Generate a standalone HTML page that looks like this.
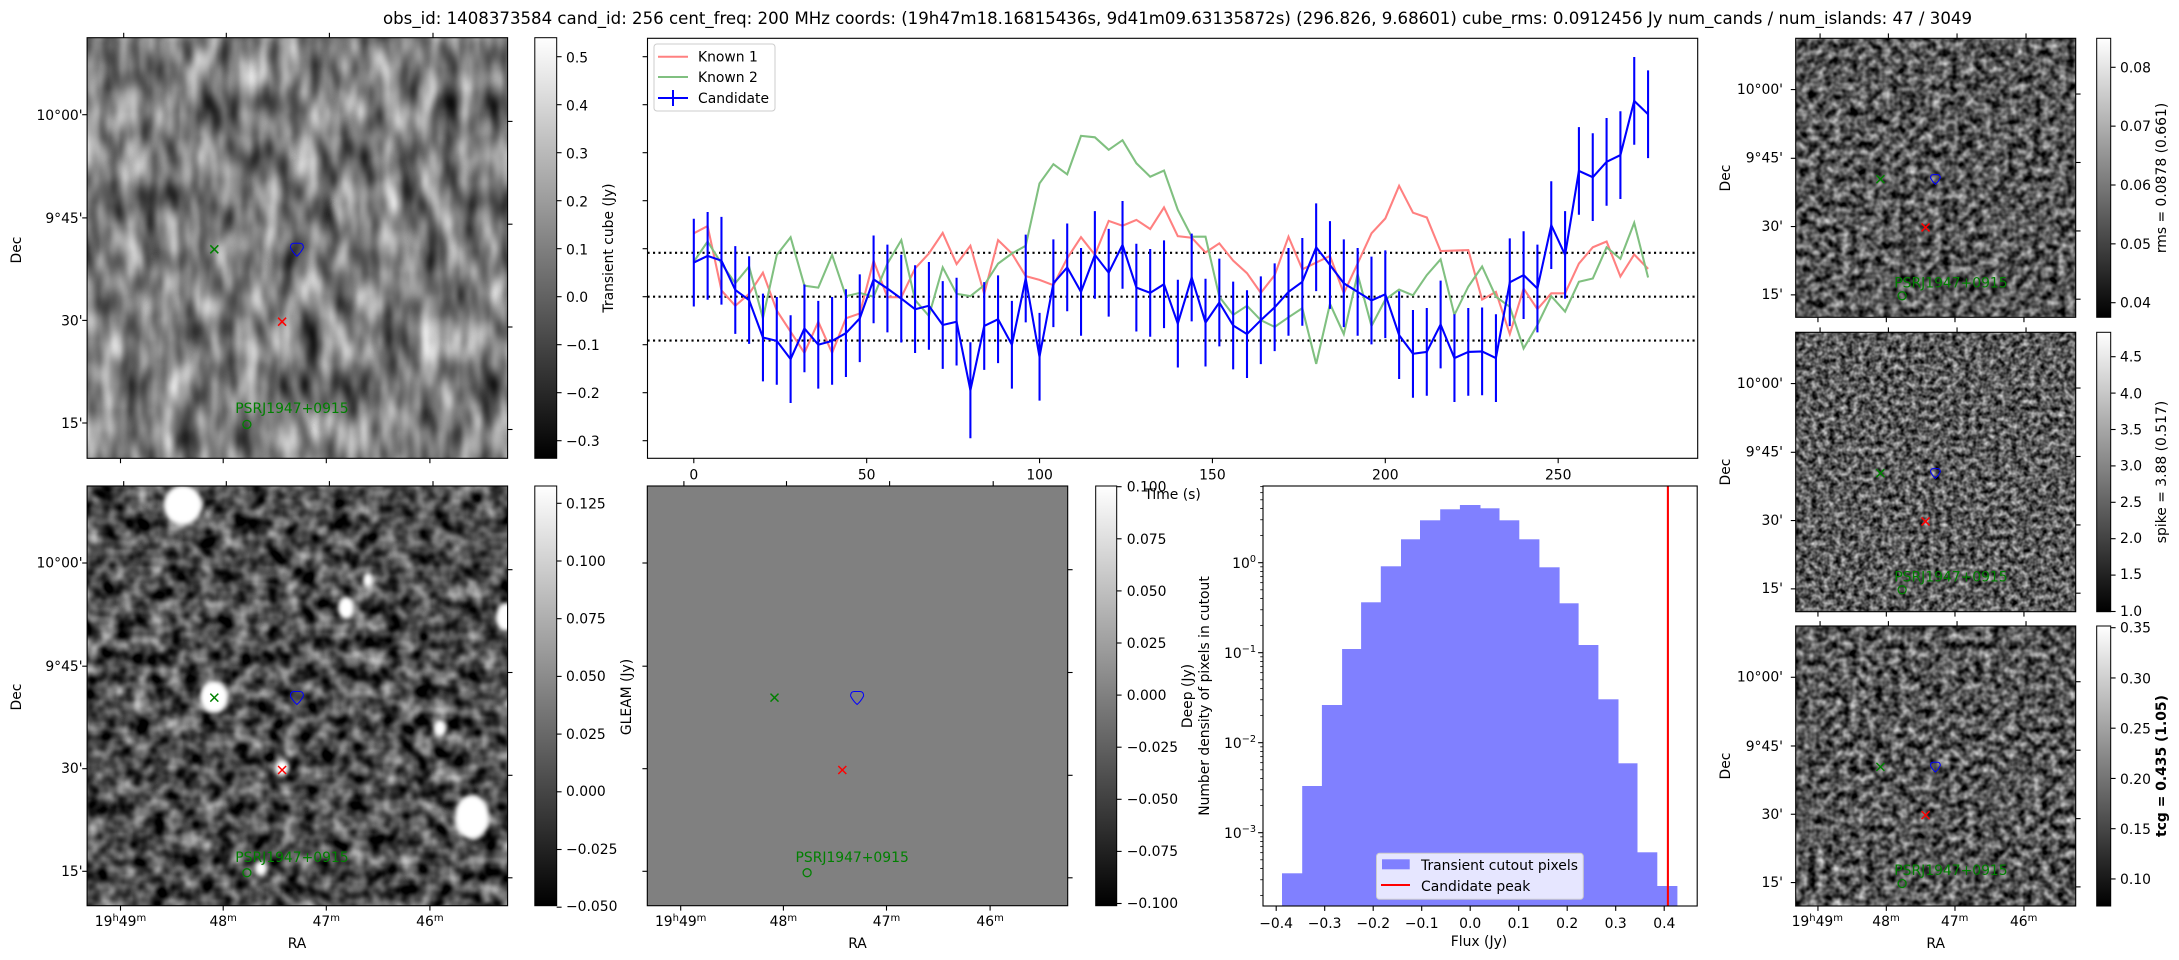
<!DOCTYPE html>
<html><head><meta charset="utf-8">
<style>
html,body{margin:0;padding:0;background:#fff;}
svg{display:block;}
text{font-family:"DejaVu Sans","Liberation Sans",sans-serif;font-size:13.9px;fill:#000;}
.ps{fill:#008000;font-size:13.9px;}
</style></head>
<body>
<svg id="s" width="2179" height="960" viewBox="0 0 2179 960" xmlns="http://www.w3.org/2000/svg">
<defs>
<filter id="n1" x="0" y="0" width="1" height="1" color-interpolation-filters="sRGB">
<feTurbulence type="fractalNoise" baseFrequency="0.05 0.022" numOctaves="2" seed="3"/>
<feColorMatrix type="matrix" values="1.1 0 0 0 -0.06  1.1 0 0 0 -0.06  1.1 0 0 0 -0.06  0 0 0 0 1"/>
</filter>
<filter id="n2" x="0" y="0" width="1" height="1" color-interpolation-filters="sRGB">
<feTurbulence type="fractalNoise" baseFrequency="0.06" numOctaves="2" seed="7"/>
<feColorMatrix type="matrix" values="1.2 0 0 0 -0.3  1.2 0 0 0 -0.3  1.2 0 0 0 -0.3  0 0 0 0 1"/>
</filter>
<filter id="n3" x="0" y="0" width="1" height="1" color-interpolation-filters="sRGB">
<feTurbulence type="fractalNoise" baseFrequency="0.12" numOctaves="2" seed="11"/>
<feColorMatrix type="matrix" values="1.2 0 0 0 -0.26  1.2 0 0 0 -0.26  1.2 0 0 0 -0.26  0 0 0 0 1"/>
</filter>
<filter id="n4" x="0" y="0" width="1" height="1" color-interpolation-filters="sRGB">
<feTurbulence type="fractalNoise" baseFrequency="0.17" numOctaves="2" seed="5"/>
<feColorMatrix type="matrix" values="1.2 0 0 0 -0.24  1.2 0 0 0 -0.24  1.2 0 0 0 -0.24  0 0 0 0 1"/>
</filter>
<filter id="bl"><feGaussianBlur stdDeviation="2"/></filter>
<linearGradient id="gr" x1="0" y1="1" x2="0" y2="0"><stop offset="0" stop-color="#000"/><stop offset="1" stop-color="#fff"/></linearGradient>
<clipPath id="cbl"><rect x="87.1" y="486" width="420.5" height="419.7"/></clipPath>
</defs>

<text x="1177.5" y="24" text-anchor="middle" style="font-size:16.7px" textLength="1589" lengthAdjust="spacingAndGlyphs">obs_id: 1408373584 cand_id: 256 cent_freq: 200 MHz coords: (19h47m18.16815436s, 9d41m09.63135872s) (296.826, 9.68601) cube_rms: 0.0912456 Jy num_cands / num_islands: 47 / 3049</text>

<rect x="87.1" y="37.7" width="420.5" height="420.6" filter="url(#n1)"/>
<rect x="87.1" y="486" width="420.5" height="419.7" filter="url(#n2)"/>
<g clip-path="url(#cbl)" fill="#fff" filter="url(#bl)">
<ellipse cx="183" cy="505" rx="19" ry="20"/>
<ellipse cx="214" cy="697" rx="14" ry="16"/>
<ellipse cx="346" cy="608" rx="8" ry="11"/>
<ellipse cx="506" cy="617" rx="10" ry="14"/>
<ellipse cx="282" cy="768" rx="7" ry="8"/>
<ellipse cx="440" cy="728" rx="6" ry="8"/>
<ellipse cx="472" cy="817" rx="17" ry="22"/>
<ellipse cx="261" cy="868" rx="6" ry="7"/>
<ellipse cx="368" cy="580" rx="5" ry="7"/>
</g>
<rect x="647.3" y="486" width="420.4" height="419.7" fill="#808080"/>
<rect x="1795.7" y="38.3" width="280" height="279" filter="url(#n3)"/>
<rect x="1795.7" y="332.3" width="280" height="279.4" filter="url(#n4)"/>
<rect x="1795.7" y="626" width="280" height="280" filter="url(#n3)"/>

<rect x="534.8" y="37.7" width="21.9" height="420.6" fill="url(#gr)" stroke="#000" stroke-width="1"/>
<rect x="534.8" y="486" width="21.9" height="419.7" fill="url(#gr)" stroke="#000" stroke-width="1"/>
<rect x="1095.7" y="486" width="21" height="419.7" fill="url(#gr)" stroke="#000" stroke-width="1"/>
<rect x="2096.7" y="38.3" width="14" height="279" fill="url(#gr)" stroke="#000" stroke-width="1"/>
<rect x="2096.7" y="332.3" width="14" height="279.4" fill="url(#gr)" stroke="#000" stroke-width="1"/>
<rect x="2096.7" y="626" width="14" height="280" fill="url(#gr)" stroke="#000" stroke-width="1"/>

<g id="dyn"></g>

<g>
<text x="566" y="62.5">0.5</text><text x="566" y="110.5">0.4</text><text x="566" y="158.5">0.3</text><text x="566" y="206.5">0.2</text><text x="566" y="254.5">0.1</text><text x="566" y="302">0.0</text><text x="566" y="350">−0.1</text><text x="566" y="398">−0.2</text><text x="566" y="446">−0.3</text>
<text x="566" y="508.3">0.125</text><text x="566" y="566">0.100</text><text x="566" y="623.5">0.075</text><text x="566" y="681">0.050</text><text x="566" y="739">0.025</text><text x="566" y="796">0.000</text><text x="566" y="854">−0.025</text><text x="566" y="911">−0.050</text>
<text x="1126.7" y="491.5">0.100</text><text x="1126.7" y="544">0.075</text><text x="1126.7" y="596">0.050</text><text x="1126.7" y="648">0.025</text><text x="1126.7" y="700">0.000</text><text x="1126.7" y="752">−0.025</text><text x="1126.7" y="804">−0.050</text><text x="1126.7" y="856">−0.075</text><text x="1126.7" y="908">−0.100</text>
<text x="2120" y="72.3">0.08</text><text x="2120" y="131">0.07</text><text x="2120" y="190">0.06</text><text x="2120" y="249">0.05</text><text x="2120" y="307.7">0.04</text>
<text x="2120" y="361.7">4.5</text><text x="2120" y="398.3">4.0</text><text x="2120" y="434.3">3.5</text><text x="2120" y="470.7">3.0</text><text x="2120" y="507">2.5</text><text x="2120" y="543">2.0</text><text x="2120" y="579">1.5</text><text x="2120" y="616">1.0</text>
<text x="2120" y="632.7">0.35</text><text x="2120" y="683.3">0.30</text><text x="2120" y="733.3">0.25</text><text x="2120" y="784">0.20</text><text x="2120" y="834">0.15</text><text x="2120" y="884">0.10</text>
</g>
<text transform="translate(613,248) rotate(-90)" text-anchor="middle">Transient cube (Jy)</text>
<text transform="translate(631,697) rotate(-90)" text-anchor="middle">GLEAM (Jy)</text>
<text transform="translate(1192,696) rotate(-90)" text-anchor="middle">Deep (Jy)</text>
<text transform="translate(1209,696) rotate(-90)" text-anchor="middle">Number density of pixels in cutout</text>
<text transform="translate(2166,178) rotate(-90)" text-anchor="middle">rms = 0.0878 (0.661)</text>
<text transform="translate(2166,472) rotate(-90)" text-anchor="middle">spike = 3.88 (0.517)</text>
<text transform="translate(2166,766) rotate(-90)" text-anchor="middle" style="font-weight:bold">tcg = 0.435 (1.05)</text>

<g text-anchor="end">
<text x="82.6" y="120">10°00'</text><text x="82.6" y="223">9°45'</text><text x="82.6" y="325.5">30'</text><text x="82.6" y="428">15'</text>
<text x="82.6" y="567.5">10°00'</text><text x="82.6" y="671">9°45'</text><text x="82.6" y="773">30'</text><text x="82.6" y="876">15'</text>
<text x="1783" y="94">10°00'</text><text x="1783" y="162.5">9°45'</text><text x="1783" y="231">30'</text><text x="1783" y="299">15'</text>
<text x="1783" y="388">10°00'</text><text x="1783" y="456.5">9°45'</text><text x="1783" y="525">30'</text><text x="1783" y="593">15'</text>
<text x="1783" y="681.5">10°00'</text><text x="1783" y="751">9°45'</text><text x="1783" y="819">30'</text><text x="1783" y="887">15'</text>
</g>
<text transform="translate(21,250) rotate(-90)" text-anchor="middle">Dec</text>
<text transform="translate(21,697) rotate(-90)" text-anchor="middle">Dec</text>
<text transform="translate(1730,178) rotate(-90)" text-anchor="middle">Dec</text>
<text transform="translate(1730,472) rotate(-90)" text-anchor="middle">Dec</text>
<text transform="translate(1730,766) rotate(-90)" text-anchor="middle">Dec</text>

<g text-anchor="middle">
<text x="120.5" y="926">19<tspan dy="-5" style="font-size:10px">h</tspan><tspan dy="5">49</tspan><tspan dy="-5" style="font-size:10px">m</tspan></text>
<text x="223.2" y="926">48<tspan dy="-5" style="font-size:10px">m</tspan></text>
<text x="326.3" y="926">47<tspan dy="-5" style="font-size:10px">m</tspan></text>
<text x="429.9" y="926">46<tspan dy="-5" style="font-size:10px">m</tspan></text>
<text x="297" y="948">RA</text>
<text x="680.7" y="926">19<tspan dy="-5" style="font-size:10px">h</tspan><tspan dy="5">49</tspan><tspan dy="-5" style="font-size:10px">m</tspan></text>
<text x="783.4" y="926">48<tspan dy="-5" style="font-size:10px">m</tspan></text>
<text x="886.5" y="926">47<tspan dy="-5" style="font-size:10px">m</tspan></text>
<text x="990.1" y="926">46<tspan dy="-5" style="font-size:10px">m</tspan></text>
<text x="857.5" y="948">RA</text>
<text x="1817.3" y="926">19<tspan dy="-5" style="font-size:10px">h</tspan><tspan dy="5">49</tspan><tspan dy="-5" style="font-size:10px">m</tspan></text>
<text x="1886" y="926">48<tspan dy="-5" style="font-size:10px">m</tspan></text>
<text x="1954.7" y="926">47<tspan dy="-5" style="font-size:10px">m</tspan></text>
<text x="2023.7" y="926">46<tspan dy="-5" style="font-size:10px">m</tspan></text>
<text x="1935.7" y="948">RA</text>
</g>

<g text-anchor="middle">
<text x="693.8" y="479.5">0</text><text x="866.7" y="479.5">50</text><text x="1039.6" y="479.5">100</text><text x="1212.4" y="479.5">150</text><text x="1385.3" y="479.5">200</text><text x="1558.2" y="479.5">250</text>
<text x="1172.6" y="499">Time (s)</text>
</g>

<g text-anchor="middle">
<text x="1276.1" y="928">−0.4</text><text x="1324.6" y="928">−0.3</text><text x="1373.2" y="928">−0.2</text><text x="1421.7" y="928">−0.1</text><text x="1470.2" y="928">0.0</text><text x="1518.7" y="928">0.1</text><text x="1567.2" y="928">0.2</text><text x="1615.7" y="928">0.3</text><text x="1664.3" y="928">0.4</text>
<text x="1479" y="946">Flux (Jy)</text>
</g>
<g text-anchor="end">
<text x="1256" y="568">10<tspan dy="-6" style="font-size:9.7px">0</tspan></text>
<text x="1256" y="658">10<tspan dy="-6" style="font-size:9.7px">−1</tspan></text>
<text x="1256" y="748">10<tspan dy="-6" style="font-size:9.7px">−2</tspan></text>
<text x="1256" y="838">10<tspan dy="-6" style="font-size:9.7px">−3</tspan></text>
</g>

<text class="ps" x="235.3" y="413">PSRJ1947+0915</text>
<text class="ps" x="235.3" y="862">PSRJ1947+0915</text>
<text class="ps" x="795.5" y="862">PSRJ1947+0915</text>
<text class="ps" x="1894.3" y="287.5">PSRJ1947+0915</text>
<text class="ps" x="1894.3" y="581.5">PSRJ1947+0915</text>
<text class="ps" x="1894.3" y="875">PSRJ1947+0915</text>

<rect x="654" y="44" width="121" height="67" rx="3" fill="#fff" fill-opacity="0.8" stroke="#ccc" stroke-width="1"/>
<line x1="658" y1="56.7" x2="688" y2="56.7" stroke="#ff8080" stroke-width="2"/>
<line x1="658" y1="77" x2="688" y2="77" stroke="#80c080" stroke-width="2"/>
<line x1="658" y1="98" x2="688" y2="98" stroke="#00f" stroke-width="2"/>
<line x1="673" y1="90" x2="673" y2="106" stroke="#00f" stroke-width="2"/>
<text x="698" y="61.5">Known 1</text><text x="698" y="82">Known 2</text><text x="698" y="103">Candidate</text>

<g id="hleg">
<rect x="1376.5" y="853.3" width="206.8" height="46" rx="3" fill="#fff" fill-opacity="0.8" stroke="#ccc" stroke-width="1"/>
<rect x="1382" y="859.3" width="27.7" height="10" fill="#8080ff"/>
<line x1="1381" y1="885" x2="1410" y2="885" stroke="#f00" stroke-width="2"/>
<text x="1421" y="870">Transient cutout pixels</text>
<text x="1421" y="891">Candidate peak</text>
</g>
</svg>
<script>
(function(){
var NS="http://www.w3.org/2000/svg";
var g=document.getElementById('dyn');
function el(t,a,p){var e=document.createElementNS(NS,t);for(var k in a)e.setAttribute(k,a[k]);(p||g).appendChild(e);return e;}
function ln(x1,y1,x2,y2,c,w,extra){var a={x1:x1,y1:y1,x2:x2,y2:y2,stroke:c||'#000','stroke-width':w||1.1};if(extra)for(var k in extra)a[k]=extra[k];return el('line',a);}
function panel(x,y,w,h,s){
  var L=[77,180.2,282.7,385.3],R=[83.7,186.5,289.3,391.8],B=[33.4,136.1,239.2,342.8],T=[36.6,139.2,242.3,345.9];
  L.forEach(function(v){ln(x-4.9,y+v*s,x,y+v*s);});
  R.forEach(function(v){ln(x+w,y+v*s,x+w+4.9,y+v*s);});
  B.forEach(function(v){ln(x+v*s,y+h,x+v*s,y+h+4.9);});
  T.forEach(function(v){ln(x+v*s,y-4.9,x+v*s,y);});
  el('rect',{x:x,y:y,width:w,height:h,fill:'none',stroke:'#000','stroke-width':1.1});
  var gx=x+127.2*s,gy=y+211.6*s,d=4;
  ln(gx-d,gy-d,gx+d,gy+d,'#008000',1.5);ln(gx-d,gy+d,gx+d,gy-d,'#008000',1.5);
  var rx=x+195*s,ry=y+284*s;
  ln(rx-d,ry-d,rx+d,ry+d,'#f00',1.5);ln(rx-d,ry+d,rx+d,ry-d,'#f00',1.5);
  el('circle',{cx:x+159.8*s,cy:y+386.7*s,r:4,fill:'none',stroke:'#008000','stroke-width':1.3});
  var bx=x+209.8*s,by=y+212*s,k=s<0.8?0.75:1;
  el('path',{d:'M'+(bx-6.5*k)+','+(by-2*k)+' Q'+(bx-6.5*k)+','+(by-6.5*k)+' '+(bx-3*k)+','+(by-6.5*k)+' L'+(bx+3*k)+','+(by-6.5*k)+' Q'+(bx+6.5*k)+','+(by-6.5*k)+' '+(bx+6.5*k)+','+(by-2*k)+' Q'+(bx+4*k)+','+(by+3*k)+' '+bx+','+(by+6.5*k)+' Q'+(bx-4*k)+','+(by+3*k)+' '+(bx-6.5*k)+','+(by-2*k)+' Z',fill:'none',stroke:'#00f','stroke-width':1});
}
panel(87.1,37.7,420.5,420.6,1);
panel(87.1,486,420.5,419.7,1);
panel(647.3,486,420.4,419.7,1);
var s2=280/420.5;
panel(1795.7,38.3,280,279,s2);
panel(1795.7,332.3,280,279.4,s2);
panel(1795.7,626,280,280,s2);
function cbt(x,ys){ys.forEach(function(y){ln(x,y,x+4.9,y);});}
var a=[];for(var v=-0.3;v<0.55;v+=0.1)a.push(296.7-v*480);cbt(556.7,a);
a=[];for(var i=0;i<8;i++)a.push(503.3+i*57.7);cbt(556.7,a);
a=[];for(i=0;i<9;i++)a.push(486.7+i*52.1);cbt(1116.7,a);
a=[];for(i=0;i<5;i++)a.push(67.3+i*58.85);cbt(2110.7,a);
a=[];for(i=0;i<8;i++)a.push(356.7+i*36.4);cbt(2110.7,a);
a=[];for(i=0;i<6;i++)a.push(627.7+i*50.25);cbt(2110.7,a);
var X0=647.5,X1=1697.7,Y0=38.3,Y1=458.3;
function X(i){return 693.8+i*13.83;}function Y(v){return 296.7-v*480;}
var cand=[0.071,0.085,0.075,0.014,-0.007,-0.085,-0.092,-0.13,-0.066,-0.10,-0.092,-0.076,-0.045,0.036,0.017,-0.004,-0.026,-0.019,-0.059,-0.052,-0.195,-0.061,-0.047,-0.10,0.038,-0.125,0.028,0.061,0.010,0.087,0.050,0.108,0.019,0.008,0.026,-0.056,0.040,-0.054,-0.012,-0.06,
-0.078,-0.049,-0.022,0.010,0.031,0.103,0.066,0.028,0.010,-0.008,0.005,-0.080,-0.119,-0.115,-0.058,-0.128,-0.115,-0.114,-0.128,0.030,0.045,0.017,0.149,0.087,0.262,0.249,0.281,0.295,0.408,0.380];
var k1=[0.132,0.147,0.013,-0.019,0.006,0.05,-0.029,-0.073,-0.117,-0.052,-0.117,-0.045,-0.035,0.075,-0.001,-0.001,0.059,0.090,0.133,0.068,0.106,0.006,0.118,0.09,0.043,0.035,0.024,0.080,0.124,0.087,0.158,0.148,0.160,0.141,0.186,0.126,0.123,0.092,0.111,0.075,
0.049,0.008,0.045,0.125,0.057,0.071,0.085,0.007,0.069,0.132,0.163,0.231,0.175,0.165,0.095,0.096,0.097,-0.006,0.010,-0.078,0.017,-0.026,0.007,0.007,0.069,0.103,0.115,0.042,0.088,0.058];
var k2=[0.073,0.115,0.069,0.028,0.063,-0.045,0.087,0.124,0.023,0.019,0.087,0.001,0.008,0,0.069,0.118,-0.007,-0.04,0.061,0.006,0.001,0.024,0.069,0.090,0.106,0.236,0.276,0.255,0.335,0.332,0.306,0.326,0.278,0.25,0.263,0.181,0.125,0.125,0.0,-0.038,
-0.019,-0.049,-0.063,-0.043,-0.024,-0.140,-0.015,-0.078,0.047,-0.061,-0.006,0.015,0.003,0.045,0.078,-0.038,0.021,0.063,0,-0.021,-0.108,-0.059,0.001,-0.031,0.031,0.038,0.103,0.079,0.154,0.040];
function pl(arr,c){var p=arr.map(function(v,i){return X(i).toFixed(1)+','+Y(v).toFixed(1);}).join(' ');el('polyline',{points:p,fill:'none',stroke:c,'stroke-width':2.08});}
[0.0914,0,-0.0914].forEach(function(v){ln(X0,Y(v),X1,Y(v),'#000',2.08,{'stroke-dasharray':'2.1,3.4'});});
pl(k1,'#ff8080');pl(k2,'#80c080');
cand.forEach(function(v,i){var e=(i==20)?0.1:0.0914;ln(X(i),Y(v+e),X(i),Y(v-e),'#00f',2.08);});
pl(cand,'#0000ff');
for(v=-0.3;v<0.55;v+=0.1)ln(X0-4.9,Y(v),X0,Y(v));
for(var t=0;t<=250;t+=50)ln(693.8+t*3.4575,Y1,693.8+t*3.4575,Y1+4.9);
el('rect',{x:X0,y:Y0,width:X1-X0,height:Y1-Y0,fill:'none',stroke:'#000','stroke-width':1.1});
var svg=document.getElementById('s');
var HX0=1263,HX1=1697.2,HY0=486,HY1=906;
var ed=[435,486,536,587,635,685,736,784,835,885,936,984,1034,1085,1136,1184,1234,1285,1333,1383,1434];
var tp=[1210,948,705,537,397,289,208,151,118,105,115,151,208,292,400,525,688,880,1147,1248];
var hg=el('g',{});
for(i=0;i<20;i++){var xa=1110+ed[i]*0.3954,xb=1110+ed[i+1]*0.3954,yt=470+tp[i]/3;
el('rect',{x:xa.toFixed(1),y:yt.toFixed(1),width:(xb-xa+0.4).toFixed(1),height:(HY1-yt).toFixed(1),fill:'#8080ff'},hg);}
ln(1667.9,HY0,1667.9,HY1,'#f00',2.08);
for(v=-0.4;v<0.45;v+=0.1)ln(1470.2+v*485,HY1,1470.2+v*485,HY1+4.9);
for(var d=-4;d<=1;d++){var yd=562.7-d*90;if(yd>=HY0&&yd<=HY1)ln(HX0-4.9,yd,HX0,yd);
 for(var m=2;m<10;m++){var ym=yd-Math.log10(m)*90;if(ym>=HY0&&ym<=HY1)ln(HX0-2.8,ym,HX0,ym,'#000',0.8);}}
el('rect',{x:HX0,y:HY0,width:HX1-HX0,height:HY1-HY0,fill:'none',stroke:'#000','stroke-width':1.1});
svg.appendChild(document.getElementById('hleg'));
})();
</script>
</body></html>
